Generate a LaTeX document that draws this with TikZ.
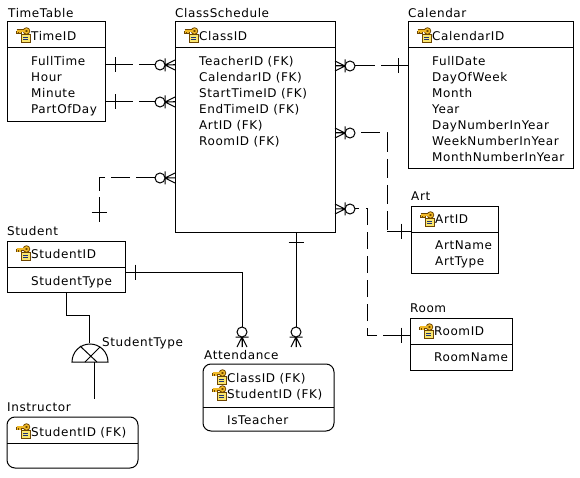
\documentclass[tikz,border=0pt]{standalone}
\usepackage{fontspec}
\setmainfont[LetterSpace=5]{DejaVu Sans}
\definecolor{keygold}{RGB}{240,185,40}
\definecolor{keyedge}{RGB}{110,70,0}
\definecolor{cardyellow}{RGB}{250,230,110}
\definecolor{cardline}{RGB}{30,50,120}
\tikzset{
    entity/.style={draw, line width=1pt, anchor=north west, inner sep=0pt, outer sep=0pt},
    weak/.style={entity, rounded corners=8pt},
    rel/.style={line width=1pt},
    txt/.style={anchor=north west, inner sep=0pt, align=left, font=\fontsize{12}{16}\selectfont},
    keyicon/.pic={
        \fill[cardyellow, draw=keyedge, line width=.9pt] (5,6.5) rectangle (14,14);
        \draw[cardline, line width=.9pt] (7,9) -- (12,9) (7,11.5) -- (12,11.5);
        \draw[keyedge, line width=3pt] (0.5,3) -- (8.5,3) (1.5,3) -- (1.5,6) (4,3) -- (4,6);
        \draw[keyedge, line width=3.2pt] (10.5,3) circle (2);
        \draw[keygold, line width=1.4pt] (0.5,3) -- (8.5,3) (1.5,3) -- (1.5,5.5) (4,3) -- (4,5.5);
        \draw[keygold, line width=1.4pt] (10.5,3) circle (2);
    },
    barmark/.pic={\draw[rel] (0,-7.5) -- (0,7.5);},
    crowmark/.pic={
        \draw[rel] (10,0) -- (0,-5) (10,0) -- (0,0) (10,0) -- (0,5) (10,-6.5) -- (10,6.5);
        \draw[rel, fill=white] (15,0) circle (5);
    }
}
\begin{document}
\begin{tikzpicture}[x=1pt, y=-1pt]
\useasboundingbox (0,0) rectangle (580,478);

% tables
\node[entity, minimum width=98pt, minimum height=100pt] (timetable) at (7,22) {};
\node[entity, minimum width=160pt, minimum height=210pt] (classschedule) at (175,22) {};
\node[entity, minimum width=165pt, minimum height=147pt] (calendar) at (408,22) {};
\node[entity, minimum width=87pt, minimum height=66pt] (art) at (411,207) {};
\node[entity, minimum width=102pt, minimum height=52pt] (room) at (410,318) {};
\node[entity, minimum width=118pt, minimum height=51pt] (student) at (7,241) {};
\node[weak, minimum width=131pt, minimum height=67pt] (attendance) at (203,364) {};
\node[weak, minimum width=131pt, minimum height=51pt] (instructor) at (7,417) {};

% dividers
\draw[rel] (timetable.west |- 0,48) -- (timetable.east |- 0,48);
\draw[rel] (classschedule.west |- 0,48) -- (classschedule.east |- 0,48);
\draw[rel] (calendar.west |- 0,48) -- (calendar.east |- 0,48);
\draw[rel] (art.west |- 0,232) -- (art.east |- 0,232);
\draw[rel] (room.west |- 0,344) -- (room.east |- 0,344);
\draw[rel] (student.west |- 0,267) -- (student.east |- 0,267);
\draw[rel] (attendance.west |- 0,407) -- (attendance.east |- 0,407);
\draw[rel] (instructor.west |- 0,443) -- (instructor.east |- 0,443);

% titles
\node[txt] (timetabletitle) at (8,8) {TimeTable};
\node[txt] (classscheduletitle) at (175,8) {ClassSchedule};
\node[txt] (calendartitle) at (408,8) {Calendar};
\node[txt] (arttitle) at (411,192) {Art};
\node[txt] (roomtitle) at (410,304) {Room};
\node[txt] (studenttitle) at (7,226) {Student};
\node[txt] (attendancetitle) at (204,350) {Attendance};
\node[txt] (instructortitle) at (7,403) {Instructor};

% keys
\pic at (16,28) {keyicon};
\pic at (184,28) {keyicon};
\pic at (417,28) {keyicon};
\pic at (420,212) {keyicon};
\pic at (419,324) {keyicon};
\pic at (16,246) {keyicon};
\pic at (212,370) {keyicon};
\pic at (212,386) {keyicon};
\pic at (16,424) {keyicon};

\node[txt] (timeid) at (31,31) {TimeID};
\node[txt] (classid) at (199,31) {ClassID};
\node[txt] (calendarid) at (432,31) {CalendarID};
\node[txt] (artid) at (435,215) {ArtID};
\node[txt] (roomid) at (434,327) {RoomID};
\node[txt] (studentid) at (31,249) {StudentID};
\node[txt] (attkeys) at (227,373) {ClassID (FK)\\StudentID (FK)};
\node[txt] (instkey) at (31,427) {StudentID (FK)};

% attributes
\node[txt] (timeattrs) at (31,56) {FullTime\\Hour\\Minute\\PartOfDay};
\node[txt] (classattrs) at (199,56) {TeacherID (FK)\\CalendarID (FK)\\StartTimeID (FK)\\EndTimeID (FK)\\ArtID (FK)\\RoomID (FK)};
\node[txt] (calattrs) at (432,56) {FullDate\\DayOfWeek\\Month\\Year\\DayNumberInYear\\WeekNumberInYear\\MonthNumberInYear};
\node[txt] (artattrs) at (435,241) {ArtName\\ArtType};
\node[txt] (roomattrs) at (434,353) {RoomName};
\node[txt] (studentattrs) at (31,276) {StudentType};
\node[txt] (attattrs) at (227,415) {IsTeacher};

% free ends and corners
\coordinate (artcorner) at (387,231);
\coordinate (roomcorner) at (367,335);
\coordinate (roomdash) at (377,335);
\coordinate (roomgap) at (383,335);
\coordinate (studentend) at (99,222);
\coordinate (studentgap) at (99,197);
\coordinate (studentturn) at (99,178);
\coordinate (studentdash) at (155,178);
\coordinate (attfoot1) at (242,347);
\coordinate (attfoot2) at (296,347);
\coordinate (attturn) at (242,272);
\coordinate (subtop) at (89,343);
\coordinate (subbottom) at (94,362);
\coordinate (subend) at (94,399);

% relations
\draw[rel, dash pattern=on 28pt off 6pt] (timetable.east |- 0,65) -- (classschedule.west |- 0,65);
\draw[rel, dash pattern=on 28pt off 6pt] (timetable.east |- 0,102) -- (classschedule.west |- 0,102);
\draw[rel, dash pattern=on 40pt off 6pt] (classschedule.east |- 0,66) -- (calendar.west |- 0,66);
\draw[rel, dash pattern=on 19.2pt off 6.8pt] (classschedule.east |- 0,133) -| (artcorner);
\draw[rel] (artcorner) -- (art.west |- artcorner);
\draw[rel, dash pattern=on 17pt off 7pt] (roomdash) -- (roomcorner) |- (classschedule.east |- 0,209);
\draw[rel] (roomgap) -- (room.west |- roomgap);
\draw[rel, dash pattern=on 19pt off 6pt] (studentdash) -- (studentturn) -- (studentgap);
\draw[rel] (studentgap) -- (studentend);
\draw[rel] (student.east |- attturn) -- (attturn) -- (attfoot1);
\draw[rel] (classschedule.south -| attfoot2) -- (attfoot2);
\draw[rel] (student.south -| 66,0) |- (89,315) -- (subtop);
\draw[rel] (subbottom) -- (subend);

% ends of relations
\pic at (115,65) {barmark};
\pic at (115,102) {barmark};
\pic at (175,65) [rotate=180] {crowmark};
\pic at (175,102) [rotate=180] {crowmark};
\pic at (175,178) [rotate=180] {crowmark};
\pic at (335,66) {crowmark};
\pic at (335,133) {crowmark};
\pic at (335,209) {crowmark};
\pic at (398,66) {barmark};
\pic at (401,231) {barmark};
\pic at (401,335) {barmark};
\pic at (99,213) [rotate=90] {barmark};
\pic at (135,272) {barmark};
\pic at (296,242) [rotate=90] {barmark};
\pic at (242,347) [rotate=90] {crowmark};
\pic at (296,347) [rotate=90] {crowmark};

% subtype symbol
\draw[rel] (72,362) arc (-180:0:18) -- cycle;
\draw[rel] (80,346) -- (97,362) (100,347) -- (85,362);
\node[txt] (subtypelabel) at (102,337) {StudentType};
\end{tikzpicture}
\end{document}
